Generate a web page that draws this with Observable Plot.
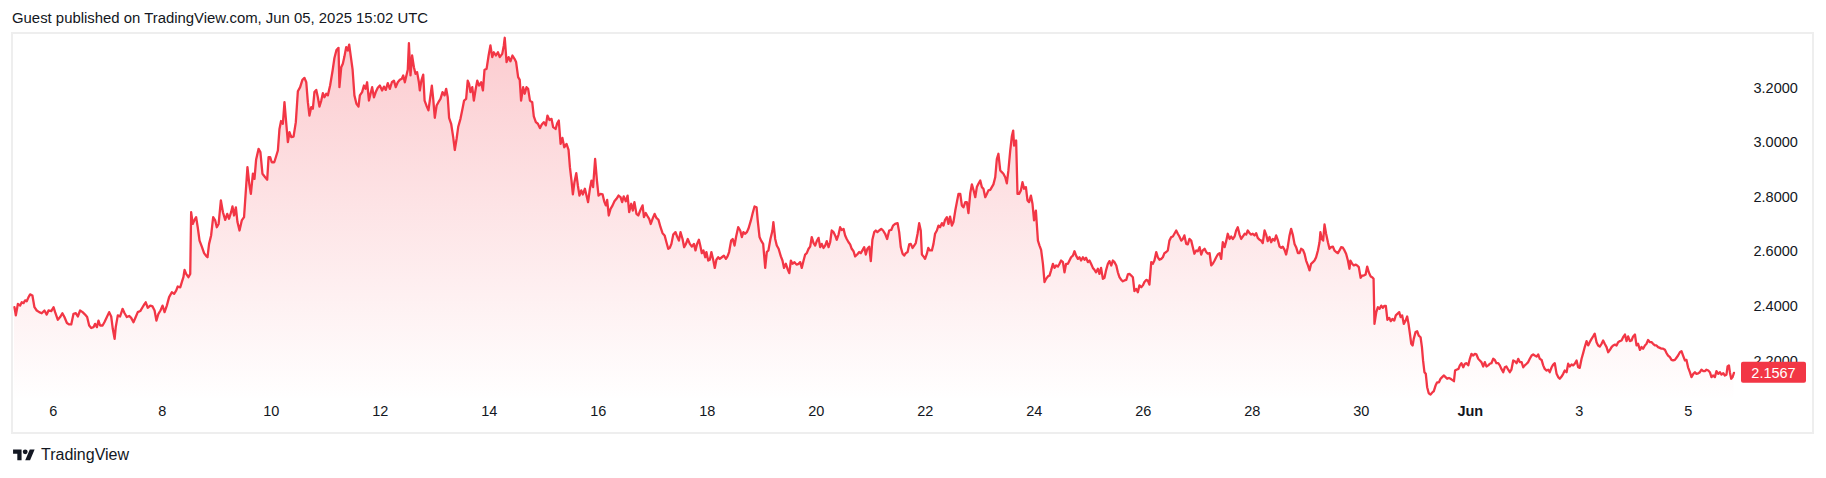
<!DOCTYPE html>
<html><head><meta charset="utf-8">
<script src="https://cdn.jsdelivr.net/npm/d3@7"></script>
<script src="https://cdn.jsdelivr.net/npm/@observablehq/plot@0.6"></script>
<style>
html,body{margin:0;padding:0;background:#fff;}
body{width:1826px;height:478px;position:relative;overflow:hidden;font-family:"Liberation Sans",Arial,sans-serif;color:#131722;}
#title{position:absolute;left:12px;top:10px;font-size:14.9px;line-height:17px;white-space:nowrap;}
#panel{position:absolute;left:11px;top:32px;width:1803px;height:402px;box-sizing:border-box;border:2px solid #eeeeee;}
#chart{position:absolute;left:0;top:33px;}
#footer{position:absolute;left:13px;top:446px;height:18px;display:flex;align-items:center;}
#footer span{font-size:16px;margin-left:6px;}
</style></head>
<body>
<div id="title">Guest published on TradingView.com, Jun 05, 2025 15:02 UTC</div>
<div id="panel"></div>
<div id="chart"></div>
<div id="footer"><svg width="22" height="17" viewBox="0 0 36 28"><path d="M14 22H7V11H0V4h14v18zM28 22h-8l7.5-18h8L28 22z" fill="#131722"/><circle cx="20" cy="8" r="4" fill="#131722"/></svg><span>TradingView</span></div>
<script>
// hours counted from 5 May 2025 00:00 (chart time)
const startUTC = Date.UTC(2025, 4, 5);
const hours = [
6.9,7.5,8.4,9.4,10.1,10.9,11.6,12.3,13.1,13.8,14.8,15.7,16.7,17.8,18.9,20.1,21.1,21.9,23.1,24.1,
24.8,26.0,27.0,28.0,28.9,30.0,31.0,31.9,32.9,33.9,34.8,35.8,36.9,38.0,38.9,39.8,40.7,41.7,42.4,43.2,
43.9,44.6,45.7,46.5,47.6,48.6,49.5,50.2,51.0,51.5,52.4,53.4,54.5,55.4,56.4,57.4,58.3,59.3,60.3,61.2,
62.3,63.3,64.2,64.7,65.6,66.7,67.7,68.6,69.4,70.3,71.2,72.1,73.0,74.0,75.0,76.2,77.2,78.1,78.8,79.9,
80.6,81.3,81.8,82.5,83.5,84.3,84.7,85.4,86.2,86.9,87.6,88.4,89.4,90.4,91.2,91.9,92.6,93.5,94.4,95.3,
96.0,96.8,97.8,98.7,99.7,100.6,101.4,102.3,102.9,103.6,104.4,105.1,106.0,107.0,108.0,108.8,109.5,110.3,111.0,111.9,
112.6,113.3,114.4,115.2,116.1,117.3,118.2,118.8,119.5,120.2,121.3,122.1,122.9,123.6,124.3,125.1,125.8,126.6,127.3,128.0,
128.8,129.8,130.8,131.7,132.7,133.7,134.6,135.4,136.1,136.8,137.6,138.3,139.0,139.8,140.5,141.2,142.0,142.7,143.4,144.2,
144.9,145.9,147.0,147.8,148.7,149.6,150.0,150.8,151.5,152.2,153.0,153.7,154.3,
155.8,156.6,157.5,158.4,159.0,160.0,160.8,161.5,162.2,163.0,
163.7,164.4,165.2,166.0,166.9,167.8,168.8,169.6,170.4,171.3,
172.2,173.1,174.0,174.8,175.7,176.6,177.5,178.1,178.8,179.5,
180.1,180.6,181.3,182.0,182.8,183.5,184.2,185.0,185.4,186.1,
186.9,187.5,188.3,189.2,190.0,190.7,191.3,192.0,192.8,193.6,
194.5,195.4,196.3,197.0,197.7,198.3,199.2,200.1,200.8,201.6,
202.3,203.3,204.2,204.9,205.8,206.5,207.1,207.7,208.5,209.2,
209.9,210.7,211.5,212.4,213.2,213.9,214.8,215.7,216.5,217.3,
218.0,218.9,219.8,220.6,221.7,222.4,222.8,223.6,224.5,225.3,
226.2,227.1,227.8,228.7,229.4,230.0,230.9,231.6,232.4,233.1,
233.9,234.9,235.6,236.5,237.4,238.3,239.1,240.0,240.9,241.6,
242.5,243.4,244.1,245.2,245.9,246.6,247.4,248.2,249.0,250.0,
250.9,251.5,252.2,252.8,253.5,254.3,255.0,255.7,256.5,257.2,
258.1,258.8,259.5,260.3,261.0,261.7,262.6,263.4,264.1,265.0,
265.9,266.6,267.3,267.9,268.6,269.4,270.3,271.1,272.0,272.9,
273.8,274.5,275.2,276.1,276.9,277.6,278.5,279.2,279.9,280.8,
281.6,282.6,283.5,284.1,284.9,285.5,286.4,287.1,287.9,288.8,
289.6,290.5,291.4,292.3,293.2,294.0,294.8,295.5,296.2,297.0,
298.0,298.7,299.5,300.2,301.1,301.8,302.6,303.4,304.3,305.2,
306.1,306.8,307.5,308.3,
308.9,309.6,310.3,311.1,311.6,312.4,313.1,313.8,314.6,315.3,
316.0,316.8,317.5,318.4,319.3,320.2,320.9,321.6,322.5,323.2,
324.0,324.7,325.6,326.5,327.2,327.9,328.7,329.4,330.1,331.2,
332.0,332.8,333.7,334.2,335.0,335.7,336.6,337.5,338.2,338.9,
339.8,340.7,341.1,341.9,342.6,343.4,344.4,345.1,345.8,346.6,
347.3,348.1,348.8,349.5,350.4,351.3,352.2,352.9,353.6,354.4,
355.1,355.8,356.6,357.3,358.0,358.8,359.5,360.2,361.0,361.7,
362.4,363.2,363.9,364.6,365.4,366.1,366.8,367.6,368.3,369.0,
369.8,370.5,371.2,372.0,372.7,373.4,374.2,374.9,375.6,376.4,
377.1,378.0,378.9,379.6,380.3,381.1,381.8,382.5,383.3,384.0,
384.7,385.5,386.2,386.9,387.7,388.6,389.4,390.3,391.2,392.1,
393.0,393.8,394.7,395.8,396.5,397.2,398.0,398.7,399.4,400.2,
400.9,401.6,402.4,403.1,403.8,404.6,405.3,406.0,406.5,407.2,
407.9,408.7,409.3,410.0,410.9,411.6,412.3,413.1,413.8,414.5,
415.3,416.0,416.7,417.5,418.2,418.9,419.7,420.4,421.2,421.9,
422.6,423.4,424.1,424.8,425.6,426.3,427.0,427.8,428.5,429.2,
430.0,430.7,431.4,432.2,432.9,433.6,434.4,435.1,435.8,436.6,
437.3,438.0,438.8,439.5,440.2,441.0,441.7,442.4,443.2,443.9,
444.6,445.4,446.1,446.7,447.1,447.6,448.0,448.6,449.3,450.1,
450.8,451.5,452.3,453.0,453.7,454.5,455.2,455.9,456.7,
457.6,458.3,459.0,459.8,460.5,461.2,462.0,462.7,463.4,464.2,
464.9,465.6,466.4,467.1,467.8,468.6,469.3,470.0,470.8,471.5,
472.2,473.0,473.7,474.4,475.2,475.9,476.6,477.4,478.1,478.8,
479.6,480.3,481.0,481.8,482.5,483.2,484.0,484.7,485.4,486.2,
486.9,487.6,488.4,489.1,489.9,490.6,491.3,492.1,492.8,493.5,
494.3,495.0,495.7,496.5,497.2,497.9,498.7,499.4,500.1,500.9,
501.6,502.3,503.1,503.8,504.5,505.3,506.0,506.7,507.5,508.2,
508.9,509.7,510.4,511.1,511.9,512.6,513.3,514.1,514.8,515.5,
516.3,517.0,517.7,518.5,519.2,519.9,520.7,521.4,522.1,522.9,
523.6,524.3,525.1,525.8,526.5,527.3,528.0,528.8,529.5,530.2,
531.0,531.7,532.4,533.2,533.9,534.6,535.4,536.1,536.8,537.6,
538.3,539.0,539.8,540.5,541.2,542.0,542.7,543.4,544.2,544.9,
545.6,546.4,547.1,547.8,548.6,549.3,550.0,550.8,551.5,552.2,
553.0,553.7,554.4,555.2,555.9,556.6,557.4,558.1,558.8,559.6,
560.3,561.0,561.8,562.5,563.2,564.0,564.7,565.4,566.2,566.9,
567.6,568.4,569.1,569.9,570.6,571.3,572.1,572.8,573.5,574.3,
575.0,575.7,576.5,577.2,577.9,578.7,579.4,580.1,580.9,581.6,
582.0,582.6,583.2,583.8,584.5,585.3,586.0,586.7,587.5,588.2,
588.9,589.7,590.4,591.1,591.9,592.6,593.3,594.1,594.8,595.2,
596.0,596.7,597.5,598.2,598.9,599.7,600.4,601.1,601.9,602.6,
603.3,604.1,604.8,605.4,605.8,606.6,607.3,608.0,608.8,609.5,
610.2,610.8,611.5,612.3,613.0,613.7,614.5,615.2,615.9,616.7,
617.3,618.0,618.7,619.5,620.2,620.8,621.4,622.0,622.6,623.1,
623.9,624.6,625.3,626.1,626.7,627.2,627.8,628.4,629.0,629.7,
630.5,631.4,631.9,632.7,633.4,634.2,634.9,635.6,636.4,637.1,
637.8,638.6,639.3,640.0,640.8,641.3,641.9,642.8,643.4,644.1,
644.9,645.6,646.3,647.1,647.8,648.5,649.3,650.0,650.7,651.5,
652.2,652.9,653.7,654.4,655.1,655.9,656.6,657.3,658.1,658.8,
659.5,660.3,661.0,661.7,662.5,663.2,663.9,664.7,665.4,666.1,
666.9,667.6,668.4,669.1,669.8,670.6,671.3,672.0,672.8,673.5,
674.2,675.0,675.7,676.4,677.2,677.9,678.6,679.4,680.1,680.8,
681.6,682.3,683.0,683.8,684.5,685.2,686.0,686.7,687.4,688.2,
688.9,689.6,690.4,691.1,691.8,692.6,693.3,694.0,694.8,695.5,
696.2,697.0,697.7,698.4,699.2,699.9,700.6,701.4,702.1,702.8,
703.6,704.3,705.0,705.8,706.5,707.2,708.0,708.7,709.5,710.2,
710.9,711.7,712.4,713.1,713.9,714.6,715.3,716.1,716.8,717.5,
718.3,719.0,719.7,720.5,721.2,721.9,722.7,723.4,724.1,724.9,
725.6,726.3,727.1,727.8,728.5,729.3,730.0,730.7,731.5,732.2,
732.9,733.7,734.4,735.1,735.9,736.6,737.3,738.1,738.8,739.5,
740.3,741.0,741.7,742.5,743.2,743.9,744.7,745.4,746.2,746.9,
747.6,748.4,749.1,749.8,750.6,751.3,752.0,752.8,753.5,754.2,
755.0,755.7,756.4,757.2,757.9,758.6,759.4,760.1,760.8,
761.3,761.9,762.3,762.9,763.5,764.1
];
const price = [
2.397,2.367,2.409,2.403,2.415,2.412,2.422,2.419,2.434,2.444,2.440,2.397,2.385,2.379,2.375,2.385,2.370,2.385,2.383,2.397,
2.379,2.351,2.361,2.375,2.361,2.339,2.334,2.334,2.373,2.375,2.363,2.385,2.379,2.370,2.361,2.330,2.321,2.324,2.336,2.324,
2.348,2.330,2.330,2.342,2.361,2.379,2.363,2.318,2.281,2.324,2.367,2.363,2.391,2.375,2.361,2.365,2.358,2.342,2.361,2.379,
2.383,2.397,2.409,2.415,2.395,2.403,2.400,2.385,2.348,2.373,2.385,2.403,2.379,2.403,2.434,2.452,2.446,2.458,2.473,2.470,
2.489,2.507,2.534,2.519,2.507,2.519,2.745,2.702,2.717,2.727,2.690,2.641,2.619,2.595,2.586,2.580,2.629,2.660,2.727,2.715,
2.690,2.702,2.788,2.745,2.717,2.739,2.721,2.745,2.766,2.733,2.763,2.709,2.678,2.715,2.727,2.825,2.910,2.849,2.812,2.886,
2.867,2.937,2.977,2.965,2.886,2.873,2.864,2.947,2.947,2.928,2.928,2.949,2.971,3.050,3.079,3.069,3.148,3.069,3.002,3.038,
3.020,3.022,3.075,3.188,3.203,3.230,3.237,3.221,3.148,3.099,3.130,3.124,3.185,3.193,3.166,3.132,3.154,3.181,3.166,3.179,
3.173,3.209,3.264,3.310,3.339,3.347,3.203,3.276,3.289,3.315,3.350,3.337,3.359,
3.267,3.173,3.142,3.132,3.173,3.185,3.209,3.197,3.221,3.154,
3.179,3.203,3.166,3.185,3.201,3.209,3.191,3.205,3.193,3.218,
3.197,3.221,3.227,3.203,3.221,3.230,3.234,3.246,3.221,3.246,
3.267,3.364,3.246,3.319,3.276,3.252,3.258,3.221,3.191,3.227,
3.249,3.154,3.136,3.118,3.166,3.209,3.160,3.091,3.136,3.148,
3.160,3.185,3.173,3.197,3.166,3.091,3.069,3.020,2.973,3.014,
3.057,3.087,3.124,3.154,3.160,3.227,3.215,3.185,3.203,3.154,
3.191,3.227,3.209,3.221,3.191,3.267,3.270,3.319,3.356,3.313,
3.331,3.319,3.331,3.313,3.325,3.356,3.384,3.295,3.313,3.298,
3.319,3.307,3.295,3.240,3.230,3.154,3.203,3.179,3.203,3.197,
3.154,3.148,3.096,3.075,3.069,3.053,3.066,3.075,3.063,3.099,
3.083,3.087,3.057,3.050,3.071,3.081,2.995,3.017,2.983,2.995,
2.973,2.910,2.861,2.810,2.855,2.888,2.843,2.806,2.825,2.810,
2.831,2.806,2.782,2.831,2.861,2.837,2.940,2.861,2.806,2.812,
2.810,2.785,2.770,2.790,2.733,2.757,2.770,2.785,2.794,2.806,
2.800,2.782,2.803,2.785,2.806,2.745,2.776,2.751,2.782,2.739,
2.733,2.754,2.770,2.727,2.742,2.733,2.721,2.702,2.721,2.739,
2.724,2.717,2.690,2.668,2.660,2.635,2.611,2.615,2.629,2.663,
2.672,2.656,2.641,2.672,2.647,2.617,2.629,2.647,2.629,2.619,
2.629,2.605,2.629,2.644,
2.623,2.595,2.605,2.580,2.599,2.568,2.571,2.599,2.571,2.541,
2.571,2.580,2.574,2.580,2.586,2.574,2.583,2.599,2.641,2.647,
2.623,2.656,2.690,2.678,2.654,2.672,2.666,2.672,2.684,2.715,
2.742,2.766,2.763,2.715,2.654,2.641,2.629,2.541,2.599,2.605,
2.647,2.678,2.709,2.647,2.623,2.611,2.583,2.568,2.541,2.556,
2.538,2.522,2.568,2.556,2.562,2.553,2.556,2.562,2.541,2.568,
2.590,2.595,2.611,2.619,2.654,2.632,2.623,2.639,2.651,2.617,
2.629,2.614,2.623,2.639,2.617,2.635,2.678,2.672,2.660,2.644,
2.663,2.690,2.680,2.684,2.660,2.647,2.635,2.627,2.611,2.602,
2.583,2.590,2.599,2.595,2.605,2.617,2.590,2.611,2.619,2.566,
2.644,2.672,2.678,2.672,2.678,2.684,2.678,2.666,2.647,2.678,
2.680,2.696,2.702,2.705,2.672,2.617,2.593,2.586,2.595,2.599,
2.627,2.629,2.614,2.623,2.632,2.666,2.705,2.678,2.590,2.583,
2.574,2.593,2.614,2.605,2.605,2.629,2.666,2.678,2.696,2.690,
2.705,2.696,2.717,2.727,2.702,2.729,2.696,2.709,2.751,2.782,
2.812,2.812,2.770,2.763,2.782,2.782,2.742,2.815,2.847,2.827,
2.800,2.837,2.849,2.861,2.837,2.831,2.800,2.812,2.825,2.827,
2.837,2.847,2.873,2.940,2.959,2.898,2.892,2.886,2.873,2.851,
2.898,2.971,3.022,3.044,2.989,3.002,3.008,2.812,2.812,2.825,
2.855,2.831,2.837,2.788,2.782,2.806,2.776,2.715,2.751,
2.641,2.623,2.607,2.556,2.489,2.501,2.510,2.513,2.532,2.556,
2.541,2.550,2.546,2.556,2.568,2.562,2.525,2.556,2.556,2.568,
2.580,2.586,2.602,2.586,2.574,2.580,2.568,2.580,2.571,2.578,
2.562,2.568,2.556,2.541,2.534,2.525,2.538,2.519,2.541,2.501,
2.505,2.532,2.556,2.566,2.550,2.568,2.562,2.550,2.525,2.507,
2.497,2.492,2.495,2.497,2.517,2.519,2.513,2.507,2.456,2.464,
2.452,2.477,2.470,2.477,2.489,2.497,2.495,2.480,2.562,2.556,
2.568,2.599,2.580,2.571,2.574,2.580,2.595,2.599,2.605,2.641,
2.654,2.656,2.666,2.678,2.666,2.656,2.641,2.647,2.660,2.629,
2.627,2.647,2.641,2.617,2.593,2.605,2.602,2.617,2.590,2.605,
2.611,2.599,2.593,2.595,2.550,2.556,2.568,2.580,2.590,2.595,
2.574,2.635,2.617,2.639,2.666,2.647,2.656,2.647,2.656,2.678,
2.690,2.663,2.647,2.656,2.666,2.663,2.678,2.668,2.663,2.666,
2.660,2.668,2.651,2.644,2.641,2.632,2.678,2.663,2.639,2.654,
2.635,2.647,2.641,2.660,2.644,2.619,2.615,2.619,2.607,2.590,
2.617,2.660,2.684,2.660,2.629,2.617,2.595,2.595,2.611,2.607,
2.593,2.568,2.550,2.532,2.556,2.562,2.568,2.580,2.605,2.635,
2.672,2.647,2.641,2.700,2.666,2.635,2.611,2.617,2.619,2.605,
2.599,2.595,2.605,2.617,2.615,2.605,2.593,2.568,2.538,2.568,
2.556,2.550,2.553,2.550,2.544,2.505,2.513,2.513,2.517,2.546,
2.525,2.510,2.507,2.501,2.336,2.379,2.397,2.391,2.403,2.395,
2.402,2.402,2.351,2.358,2.346,2.354,2.348,2.367,2.373,2.379,
2.361,2.367,2.336,2.348,2.363,2.336,2.300,2.263,2.257,2.281,
2.306,2.309,2.293,2.287,2.251,2.202,2.159,2.153,2.104,2.082,
2.077,2.086,2.089,2.110,2.122,2.122,2.135,2.141,2.147,2.141,
2.135,2.138,2.135,2.131,2.126,2.165,2.168,2.171,2.184,2.192,
2.177,2.190,2.192,2.184,2.208,2.226,2.220,2.226,2.224,2.208,
2.202,2.196,2.180,2.196,2.180,2.184,2.190,2.192,2.208,2.204,
2.192,2.192,2.184,2.171,2.159,2.177,2.180,2.168,2.159,2.168,
2.202,2.199,2.192,2.208,2.196,2.196,2.177,2.184,2.190,2.196,
2.208,2.220,2.224,2.220,2.216,2.224,2.208,2.204,2.184,2.171,
2.165,2.168,2.159,2.177,2.187,2.192,2.153,2.141,2.135,2.143,
2.153,2.165,2.159,2.190,2.180,2.187,2.184,2.190,2.202,2.177,
2.175,2.208,2.229,2.251,2.273,2.257,2.269,2.281,2.290,2.300,
2.269,2.257,2.253,2.263,2.275,2.263,2.251,2.232,2.241,2.251,
2.257,2.260,2.257,2.269,2.273,2.275,2.287,2.297,2.273,2.290,
2.273,2.275,2.290,2.297,2.257,2.263,2.241,2.251,2.245,2.257,
2.263,2.277,2.269,2.269,2.263,2.257,2.257,2.251,2.248,2.245,
2.245,2.241,2.229,2.220,2.214,2.204,2.202,2.204,2.212,2.220,
2.232,2.236,2.220,2.202,2.204,2.177,2.159,2.141,2.153,2.159,
2.153,2.155,2.159,2.168,2.163,2.163,2.168,2.165,2.159,2.141,
2.147,2.141,2.163,2.153,2.159,2.150,2.155,2.147,2.150,
2.180,2.184,2.159,2.135,2.141,2.1567
];
const lastPrice = 2.1567;
const priceFloor = 2.05;
const yTicks = [2.2, 2.4, 2.6, 2.8, 3.0, 3.2];
const xTickDates = ["2025-05-06","2025-05-08","2025-05-10","2025-05-12","2025-05-14","2025-05-16","2025-05-18","2025-05-20","2025-05-22","2025-05-24","2025-05-26","2025-05-28","2025-05-30","2025-06-01","2025-06-03","2025-06-05"];
const xTickLabels = ["6","8","10","12","14","16","18","20","22","24","26","28","30","Jun","3","5"];
const boldLabels = ["Jun"];

const lineColor = "#F23645";
const textColor = "#131722";
const font = "'Liberation Sans', Arial, sans-serif";

const data = hours.map((h, i) => ({date: new Date(startUTC + h * 3600e3), price: price[i]}));
const ticks = xTickDates.map((d, i) => ({date: new Date(d + "T00:00Z"), label: xTickLabels[i]}));

const W = 1826, H = 400, MB = 32, MR = 91;
const chart = Plot.plot({
  width: W, height: H,
  marginTop: 0, marginBottom: MB, marginLeft: 13, marginRight: MR,
  style: {background: "transparent", fontFamily: font, overflow: "visible"},
  x: {type: "utc", domain: [new Date("2025-05-06T00:00Z"), new Date("2025-06-05T00:00Z")], range: [52.8, 1687.8], axis: null},
  y: {domain: [2.2, 3.2], range: [327.5, 54.5], axis: null},
  marks: [
    Plot.areaY(data, {x: "date", y1: priceFloor, y2: "price", fill: "url(#areaFade)"}),
    Plot.lineY(data, {x: "date", y: "price", stroke: lineColor, strokeWidth: 2.3, strokeLinejoin: "round"}),
    Plot.text(yTicks, {y: d => d, text: d => d3.format(".4f")(d), frameAnchor: "right", textAnchor: "start", dx: 18, fontSize: 14.5, fill: textColor}),
    Plot.text(ticks.filter(t => !boldLabels.includes(t.label)), {x: "date", text: "label", frameAnchor: "bottom", dy: 14, fontSize: 14.5, fill: textColor}),
    Plot.text(ticks.filter(t => boldLabels.includes(t.label)), {x: "date", text: "label", frameAnchor: "bottom", dy: 14, fontSize: 14.5, fontWeight: "bold", fill: textColor})
  ]
});

// gradient definition for the area fill
const NS = "http://www.w3.org/2000/svg";
const defs = document.createElementNS(NS, "defs");
const grad = document.createElementNS(NS, "linearGradient");
grad.setAttribute("id", "areaFade");
grad.setAttribute("gradientUnits", "userSpaceOnUse");
grad.setAttribute("x1", 0); grad.setAttribute("x2", 0);
grad.setAttribute("y1", 0); grad.setAttribute("y2", H - MB);
[[0, 0.26], [1, 0.0]].forEach(([o, a]) => {
  const s = document.createElementNS(NS, "stop");
  s.setAttribute("offset", o);
  s.setAttribute("stop-color", lineColor);
  s.setAttribute("stop-opacity", a);
  grad.appendChild(s);
});
defs.appendChild(grad);
chart.insertBefore(defs, chart.firstChild);

// last-price badge on the price axis
const yScale = chart.scale("y");
const yy = yScale.apply(lastPrice);
const bx = W - MR + 6, bw = 65, bh = 21;
const g = document.createElementNS(NS, "g");
const r = document.createElementNS(NS, "rect");
r.setAttribute("x", bx); r.setAttribute("y", yy - bh / 2);
r.setAttribute("width", bw); r.setAttribute("height", bh);
r.setAttribute("rx", 2); r.setAttribute("fill", lineColor);
const t = document.createElementNS(NS, "text");
t.setAttribute("x", bx + bw / 2); t.setAttribute("y", yy);
t.setAttribute("dy", "0.36em"); t.setAttribute("text-anchor", "middle");
t.setAttribute("fill", "#ffffff"); t.setAttribute("font-size", "14.5");
t.setAttribute("font-family", font);
t.textContent = d3.format(".4f")(lastPrice);
g.appendChild(r); g.appendChild(t);
chart.appendChild(g);

document.getElementById("chart").appendChild(chart);
</script>
</body></html>
